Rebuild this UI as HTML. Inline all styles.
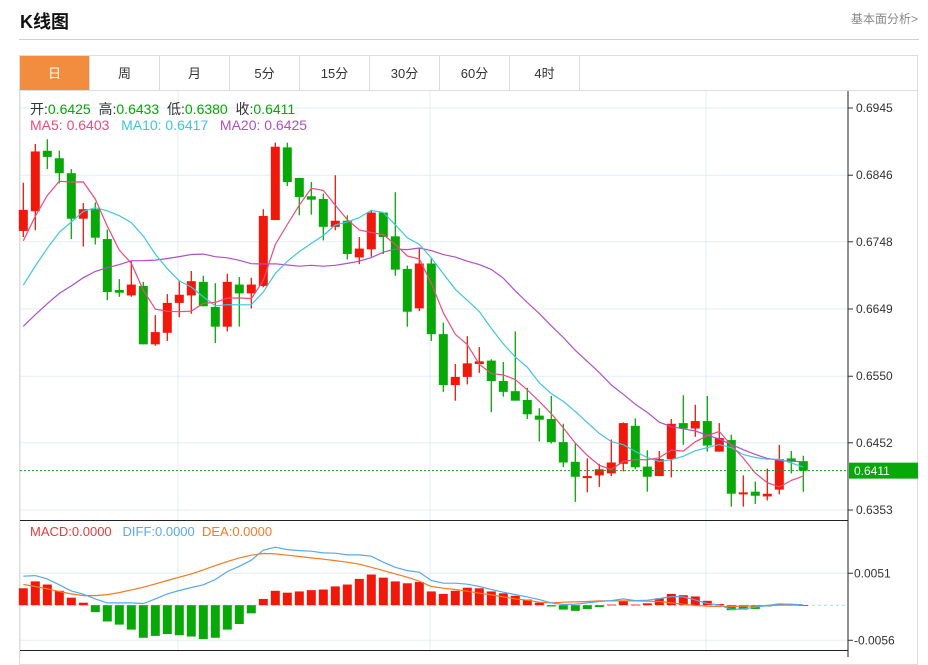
<!DOCTYPE html>
<html><head><meta charset="utf-8"><style>
body{margin:0;background:#fff;width:928px;height:657px;overflow:hidden;position:relative;font-family:"Liberation Sans","Noto Sans CJK SC",sans-serif}
.title{position:absolute;left:20px;top:8px;font-size:18px;font-weight:bold;color:#111}
.link{position:absolute;left:851px;top:10px;font-size:12px;color:#888}
.sep{position:absolute;left:19px;top:39px;width:900px;height:1px;background:#d0d0d0}
.card{position:absolute;left:19px;top:55px;width:899px;height:610px;border:1px solid #ddd;box-sizing:border-box}
.tabs{position:absolute;left:20px;top:56px;height:35px;display:flex}
.tab{width:70px;height:35px;border-right:1px solid #ddd;border-bottom:1px solid #ddd;box-sizing:border-box;text-align:center;line-height:35px;font-size:13px;color:#333}
.tab.on{background:#f28c3e;color:#fff}
.tabrest{position:absolute;left:579px;top:90px;width:339px;height:1px;background:#ddd}
.leg{position:absolute;left:30px;font-size:14px;white-space:pre}
svg{position:absolute;left:0;top:0}
</style></head><body>
<div class="title">K线图</div>
<div class="link">基本面分析&gt;</div>
<div class="sep"></div>
<div class="card"></div>
<div class="tabs">
<div class="tab on">日</div>
<div class="tab">周</div>
<div class="tab">月</div>
<div class="tab">5分</div>
<div class="tab">15分</div>
<div class="tab">30分</div>
<div class="tab">60分</div>
<div class="tab">4时</div>
</div>
<div class="tabrest"></div>
<svg id="chart" width="928" height="657"></svg>
<div class="leg" style="top:99px"><span style="color:#333">开:</span><span style="color:#0a0">0.6425</span>  <span style="color:#333">高:</span><span style="color:#0a0">0.6433</span>  <span style="color:#333">低:</span><span style="color:#0a0">0.6380</span>  <span style="color:#333">收:</span><span style="color:#0a0">0.6411</span></div>
<div class="leg" style="top:117px"><span style="color:#ee4a7c">MA5: 0.6403</span>   <span style="color:#3fc6e0">MA10: 0.6417</span>   <span style="color:#b04fc8">MA20: 0.6425</span></div>
<div class="leg" style="top:524px;font-size:13px"><span style="color:#e83a3a">MACD:0.0000</span>   <span style="color:#58a8f0">DIFF:0.0000</span>  <span style="color:#f57a20">DEA:0.0000</span></div>
<script>
const priorCloses=[0.6540,0.6550,0.6545,0.6560,0.6555,0.6570,0.6565,0.6580,0.6575,0.6590,0.6600,0.6610,0.6615,0.6630,0.6640,0.6700,0.6720,0.6745,0.6787];
const opens=[0.6764,0.6793,0.6882,0.6871,0.6849,0.6782,0.6796,0.6752,0.6677,0.6669,0.6683,0.6597,0.6614,0.6658,0.6669,0.6689,0.6652,0.6623,0.6685,0.6672,0.6683,0.6780,0.6887,0.6842,0.6815,0.6811,0.6770,0.6779,0.6725,0.6737,0.6791,0.6756,0.6708,0.6650,0.6716,0.6612,0.6537,0.6549,0.6568,0.6573,0.6543,0.6528,0.6515,0.6492,0.6487,0.6453,0.6424,0.6400,0.6404,0.6407,0.6421,0.6477,0.6417,0.6403,0.6428,0.6481,0.6473,0.6484,0.6439,0.6456,0.6376,0.6380,0.6373,0.6383,0.6429,0.6425];
const highs=[0.6835,0.6892,0.6899,0.6882,0.6855,0.6805,0.6806,0.6766,0.6693,0.6720,0.6689,0.6640,0.6671,0.6690,0.6705,0.6698,0.6687,0.6701,0.6696,0.6695,0.6796,0.6894,0.6894,0.6842,0.6836,0.6819,0.6846,0.6787,0.6755,0.6795,0.6791,0.6821,0.6713,0.6739,0.6723,0.6629,0.6568,0.6609,0.6593,0.6575,0.6571,0.6616,0.6533,0.6503,0.6521,0.6480,0.6451,0.6429,0.6421,0.6457,0.6482,0.6488,0.6441,0.6440,0.6487,0.6522,0.6508,0.6521,0.6481,0.6464,0.6404,0.6395,0.6414,0.6449,0.6440,0.6433];
const lows=[0.6755,0.6765,0.6855,0.6834,0.6752,0.6741,0.6744,0.6662,0.6667,0.6667,0.6597,0.6595,0.6602,0.6637,0.6642,0.6653,0.6599,0.6616,0.6623,0.6650,0.6681,0.6780,0.6830,0.6787,0.6788,0.6750,0.6765,0.6722,0.6715,0.6726,0.6730,0.6698,0.6623,0.6646,0.6602,0.6527,0.6514,0.6538,0.6555,0.6497,0.6520,0.6514,0.6487,0.6454,0.6451,0.6416,0.6365,0.6379,0.6387,0.6403,0.6410,0.6413,0.6380,0.6403,0.6401,0.6449,0.6461,0.6439,0.6439,0.6358,0.6358,0.6362,0.6367,0.6376,0.6407,0.6380];
const closes=[0.6795,0.6881,0.6873,0.6849,0.6782,0.6796,0.6754,0.6674,0.6673,0.6685,0.6597,0.6615,0.6658,0.6670,0.6690,0.6653,0.6623,0.6689,0.6672,0.6685,0.6786,0.6888,0.6836,0.6814,0.6810,0.6770,0.6779,0.6730,0.6738,0.6791,0.6755,0.6707,0.6645,0.6716,0.6612,0.6537,0.6549,0.6569,0.6572,0.6543,0.6527,0.6514,0.6494,0.6486,0.6453,0.6423,0.6402,0.6403,0.6413,0.6423,0.6481,0.6416,0.6402,0.6428,0.6480,0.6473,0.6484,0.6448,0.6459,0.6377,0.6379,0.6374,0.6377,0.6428,0.6425,0.6411];
const macdHist=[0.0027,0.0038,0.0033,0.0023,0.0012,0.0004,-0.0011,-0.0026,-0.0031,-0.0039,-0.0052,-0.0049,-0.0046,-0.0048,-0.0050,-0.0054,-0.0052,-0.0039,-0.0030,-0.0013,0.0010,0.0023,0.0020,0.0022,0.0024,0.0025,0.0030,0.0033,0.0042,0.0049,0.0044,0.0038,0.0035,0.0037,0.0022,0.0018,0.0023,0.0028,0.0027,0.0022,0.0019,0.0015,0.0009,0.0004,-0.0002,-0.0007,-0.0009,-0.0006,-0.0003,0.0001,0.0006,0.0001,0.0003,0.0011,0.0018,0.0016,0.0014,0.0007,0.0002,-0.0008,-0.0007,-0.0006,-0.0002,0.0002,0.0001,0.0000];
const diffVals=[0.00463,0.00473,0.00420,0.00325,0.00229,0.00176,0.00101,0.00037,0.00037,0.00037,0.00027,0.00101,0.00181,0.00234,0.00282,0.00325,0.00410,0.00537,0.00622,0.00718,0.00878,0.00926,0.00888,0.00872,0.00862,0.00835,0.00830,0.00803,0.00803,0.00782,0.00686,0.00606,0.00553,0.00527,0.00394,0.00351,0.00351,0.00335,0.00298,0.00250,0.00207,0.00170,0.00133,0.00090,0.00037,0.00011,0.00016,0.00037,0.00059,0.00074,0.00101,0.00074,0.00080,0.00106,0.00138,0.00133,0.00085,0.00027,0.00005,-0.00069,-0.00059,-0.00032,-0.00005,0.00021,0.00016,0.00005];
const deaVals=[0.00330,0.00298,0.00261,0.00218,0.00181,0.00154,0.00154,0.00170,0.00202,0.00245,0.00287,0.00340,0.00394,0.00447,0.00500,0.00564,0.00633,0.00697,0.00755,0.00798,0.00825,0.00819,0.00798,0.00777,0.00755,0.00734,0.00713,0.00686,0.00654,0.00606,0.00553,0.00500,0.00447,0.00383,0.00298,0.00271,0.00250,0.00223,0.00192,0.00165,0.00133,0.00101,0.00080,0.00048,0.00037,0.00048,0.00053,0.00059,0.00069,0.00069,0.00069,0.00069,0.00064,0.00059,0.00037,0.00016,-0.00005,-0.00016,-0.00021,-0.00021,-0.00016,-0.00011,-0.00005,0.00000,0.00000,0.00000];
const priceTicks=[0.6945,0.6846,0.6748,0.6649,0.6550,0.6452,0.6353];
const macdTicks=[0.0051,-0.0056];

const NS='http://www.w3.org/2000/svg';
const svg=document.getElementById('chart');
const RED='#f0180a',GREEN='#08a808';
const X0=20,X1=848;
const xAt=i=>23.3+12*i;
const yP=p=>108+(0.6945-p)*6791;
const yM=v=>605.2-v*6262;
function mk(tag,attrs,parent){const e=document.createElementNS(NS,tag);for(const k in attrs)e.setAttribute(k,attrs[k]);(parent||svg).appendChild(e);return e;}

[178,430,706].forEach(x=>{const l=mk('line',{x1:x,x2:x,y1:91,y2:650,stroke:'#e3edf5'});

});
priceTicks.forEach(t=>{const y=yP(t);
const g=mk('line',{x1:X0,x2:X1,y1:y,y2:y,stroke:'#e3edf5'});


mk('line',{x1:X1,x2:X1+5,y1:y,y2:y,stroke:'#333'});
const tx=mk('text',{x:856,y:y+4,'font-size':12,fill:'#333'});tx.textContent=t.toFixed(4);

});
macdTicks.forEach(t=>{const y=yM(t);
const g=mk('line',{x1:X0,x2:X1,y1:y,y2:y,stroke:'#e3edf5'});


mk('line',{x1:X1,x2:X1+5,y1:y,y2:y,stroke:'#333'});
const tx=mk('text',{x:854,y:y+4,'font-size':12,fill:'#333'});tx.textContent=t.toFixed(4);

});
mk('line',{x1:X0,x2:X0,y1:91,y2:657,stroke:'#ddd'});
const ax=mk('line',{x1:X1,x2:X1,y1:91,y2:657,stroke:'#222'});


mk('line',{x1:X0,x2:X1,y1:520.5,y2:520.5,stroke:'#222'});
mk('line',{x1:X0,x2:X1,y1:650.5,y2:650.5,stroke:'#222'});
const z=mk('line',{x1:X0,x2:X1,y1:yM(0),y2:yM(0),stroke:'#a8d8ee','stroke-dasharray':'3,3'});



const all=priorCloses.concat(closes);
function maLine(n,color,name){let pts=[];for(let i=0;i<closes.length;i++){const k=i+priorCloses.length;let s=0,c=0;for(let j=Math.max(0,k-n+1);j<=k;j++){s+=all[j];c++;}pts.push(xAt(i).toFixed(1)+','+yP(s/c).toFixed(1));}
const pl=mk('polyline',{points:pts.join(' '),fill:'none',stroke:color,'stroke-width':1.2});

}

for(let i=0;i<closes.length;i++){const up=closes[i]>=opens[i];const c=up?RED:GREEN;const x=xAt(i);
const g=mk('g',{});


mk('line',{x1:x,x2:x,y1:yP(highs[i]),y2:yP(lows[i]),stroke:c,'stroke-width':1.3},g);
const t=yP(Math.max(opens[i],closes[i])),b=yP(Math.min(opens[i],closes[i]));
mk('rect',{x:x-4.5,y:t,width:9,height:Math.max(1.5,b-t),fill:c},g);}
maLine(20,'#b04fc8','ma20-line');maLine(10,'#3fc6e0','ma10-line');maLine(5,'#ee4a7c','ma5-line');

const last=closes[closes.length-1];
const cl=mk('line',{x1:X0,x2:X1,y1:yP(last),y2:yP(last),stroke:'#1a9a1a','stroke-dasharray':'2,2'});


const cb=mk('rect',{x:849,y:yP(last)-8,width:69,height:16,fill:'#08a808'});


const ct=mk('text',{x:854,y:yP(last)+4.5,'font-size':12,fill:'#fff'});ct.textContent=last.toFixed(4);

for(let i=0;i<macdHist.length;i++){const v=macdHist[i];const y0=yM(0),y1=yM(v);
const r=mk('rect',{x:xAt(i)-4.5,y:Math.min(y0,y1),width:9,height:Math.max(0.8,Math.abs(y1-y0)),fill:v>=0?RED:GREEN});

}
function ln(arr,color,name){const pts=arr.map((v,i)=>xAt(i).toFixed(1)+','+yM(v).toFixed(1));
const pl=mk('polyline',{points:pts.join(' '),fill:'none',stroke:color,'stroke-width':1.2});

}
ln(deaVals,'#f57a20','dea-line');ln(diffVals,'#58a8f0','diff-line');
</script>
</body></html>
